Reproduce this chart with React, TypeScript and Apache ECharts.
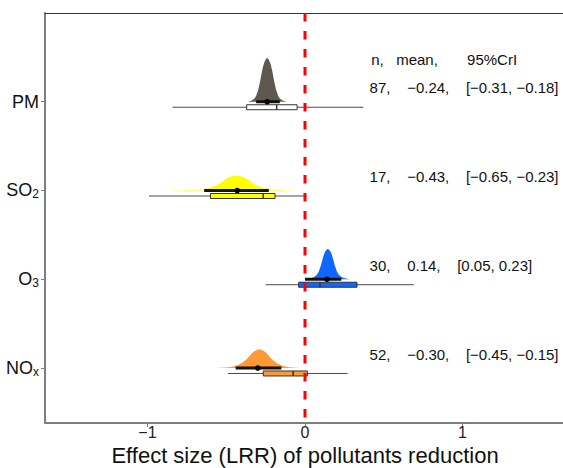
import React, { useEffect, useRef } from 'react';
import * as echarts from 'echarts';

// ---------- data ----------
const labelMain = ['PM', 'SO', 'O', 'NO'];
const labelSub = ['', '2', '3', 'x'];
const rowPositions = [4, 3, 2, 1];
const nObs = [87, 17, 30, 52];
const meanLRR = [-0.24, -0.43, 0.14, -0.3];
const criLow = [-0.31, -0.65, 0.05, -0.45];
const criHigh = [-0.18, -0.23, 0.23, -0.15];
// drawn point-interval extents
const intervalLow = [-0.31, -0.64, 0.0, -0.44];
const intervalHigh = [-0.16, -0.23, 0.23, -0.15];
// boxplots
const whiskerLow = [-0.84, -0.99, -0.25, -0.49];
const boxQ1 = [-0.37, -0.6, -0.04, -0.265];
const boxMedian = [-0.18, -0.265, 0.095, -0.075];
const boxQ3 = [-0.05, -0.19, 0.33, 0.015];
const whiskerHigh = [0.37, 0.01, 0.69, 0.27];
// density outlines [LRR, height in row units]
const densityPM = [
  [-0.361, 0], [-0.342, 0.011], [-0.322, 0.034], [-0.31, 0.068], [-0.297, 0.135], [-0.284, 0.237],
  [-0.272, 0.35], [-0.259, 0.44], [-0.24, 0.496], [-0.221, 0.44], [-0.208, 0.35], [-0.196, 0.237],
  [-0.183, 0.135], [-0.17, 0.068], [-0.158, 0.034], [-0.138, 0.011], [-0.119, 0],
];
const densitySO2 = [
  [-0.879, 0], [-0.784, 0.002], [-0.689, 0.007], [-0.638, 0.017], [-0.587, 0.039], [-0.537, 0.085],
  [-0.486, 0.147], [-0.435, 0.166], [-0.384, 0.147], [-0.333, 0.085], [-0.283, 0.039],
  [-0.232, 0.017], [-0.181, 0.007], [-0.12, 0.002], [-0.048, 0],
];
const densityO3 = [
  [0.005, 0], [0.031, 0.009], [0.056, 0.023], [0.075, 0.051], [0.088, 0.09], [0.101, 0.158],
  [0.113, 0.237], [0.126, 0.305], [0.145, 0.343], [0.164, 0.305], [0.177, 0.237], [0.189, 0.158],
  [0.202, 0.09], [0.215, 0.051], [0.234, 0.023], [0.259, 0.009], [0.285, 0],
];
const densityNOx = [
  [-0.57, 0], [-0.48, 0.009], [-0.442, 0.023], [-0.404, 0.051], [-0.366, 0.107], [-0.328, 0.18],
  [-0.29, 0.211], [-0.252, 0.18], [-0.214, 0.107], [-0.176, 0.051], [-0.138, 0.023],
  [-0.1, 0.009], [-0.03, 0],
];
const densities = [densityPM, densitySO2, densityO3, densityNOx];
const xTicks = [-1, 0, 1];
const headerParts = ['n,', 'mean,', '95%CrI'];
const axisTitle = 'Effect size (LRR) of pollutants reduction';

// ---------- styles ----------
const densityColors = ['#5f5850', '#ffff00', '#1166ff', '#ff9933'];
const boxFills = ['#ffffff', '#ffff00', '#1166ff', '#ff9933'];
const FONT = '"Liberation Sans", Arial, Helvetica, sans-serif';

const fmt = (v: number) => (v < 0 ? '\u2212' : '') + Math.abs(v).toFixed(2);
const sp = (k: number) => '\u00a0'.repeat(k);

export default function App() {
  const ref = useRef<HTMLDivElement>(null);
  useEffect(() => {
    if (!ref.current) return;
    const chart = echarts.init(ref.current, undefined, { renderer: 'svg' });

    const renderItem = (params: any, api: any) => {
      const i = params.dataIndex;
      const row = rowPositions[i];
      const base = api.coord([0, row])[1];
      const X = (v: number) => api.coord([v, row])[0];
      const dens = densities[i];
      const poly: number[][] = [];
      dens.forEach(([x, h]) => poly.push(api.coord([x, row + h])));
      const boxY = base + 5.5;
      const boxH = 5;
      const children: any[] = [
        { type: 'polygon', shape: { points: poly, smooth: 0.2 }, style: { fill: densityColors[i], stroke: null } },
        { type: 'line', shape: { x1: X(whiskerLow[i]), y1: boxY, x2: X(whiskerHigh[i]), y2: boxY }, style: { stroke: '#4a4a4a', lineWidth: 1 } },
        {
          type: 'rect',
          shape: { x: X(boxQ1[i]), y: boxY - boxH / 2, width: X(boxQ3[i]) - X(boxQ1[i]), height: boxH },
          style: { fill: boxFills[i], stroke: '#333', lineWidth: 1 },
        },
        { type: 'line', shape: { x1: X(boxMedian[i]), y1: boxY - boxH / 2, x2: X(boxMedian[i]), y2: boxY + boxH / 2 }, style: { stroke: '#333', lineWidth: 1.5 } },
        { type: 'line', shape: { x1: X(intervalLow[i]), y1: base, x2: X(intervalHigh[i]), y2: base }, style: { stroke: '#111', lineWidth: 3 } },
        { type: 'circle', shape: { cx: X(meanLRR[i]), cy: base, r: 2.8 }, style: { fill: '#000' } },
      ];
      const tp = api.coord([0.41, row + 0.155]);
      children.push({
        type: 'text',
        x: tp[0],
        y: tp[1],
        style: {
          text: `${nObs[i]},${sp(4)}${fmt(meanLRR[i])},${sp(4)}[${fmt(criLow[i])}, ${fmt(criHigh[i])}]`,
          fill: '#111',
          fontSize: 15,
          fontFamily: FONT,
          align: 'left',
          verticalAlign: 'middle',
        },
      });
      if (i === 0) {
        const hp = api.coord([0.42, row + 0.48]);
        children.push({
          type: 'text',
          x: hp[0],
          y: hp[1],
          style: {
            text: `${headerParts[0]}${sp(3)}${headerParts[1]}${sp(7)}${headerParts[2]}`,
            fill: '#111',
            fontSize: 15,
            fontFamily: FONT,
            align: 'left',
            verticalAlign: 'middle',
          },
        });
      }
      return { type: 'group', children };
    };

    const option: any = {
      animation: false,
      textStyle: { fontFamily: FONT },
      grid: { left: 45, top: 13, width: 520, height: 410, containLabel: false, outerBoundsMode: 'none' },
      xAxis: [
        {
          type: 'value',
          min: -1.65,
          max: 1.65,
          position: 'bottom',
          axisLine: { show: true, onZero: false, lineStyle: { color: '#7f7f7f', width: 2 } },
          axisTick: { show: true, customValues: xTicks, length: 4, lineStyle: { color: '#7f7f7f', width: 1 } },
          axisLabel: {
            customValues: xTicks,
            formatter: (v: number) => (v < 0 ? '\u2212' + Math.abs(v) : String(v)),
            fontSize: 16,
            color: '#222',
            margin: 1,
          },
          splitLine: { show: false },
          name: axisTitle,
          nameLocation: 'middle',
          nameGap: 19,
          nameTextStyle: { fontSize: 22, color: '#111' },
        },
        {
          type: 'value',
          min: -1.65,
          max: 1.65,
          position: 'top',
          axisLine: { show: true, onZero: false, lineStyle: { color: '#333', width: 1 } },
          axisTick: { show: false },
          axisLabel: { show: false },
          splitLine: { show: false },
        },
      ],
      yAxis: {
        type: 'value',
        min: 0.38,
        max: 5,
        axisLine: { show: true, onZero: false, lineStyle: { color: '#7f7f7f', width: 2 } },
        axisTick: { show: true, customValues: rowPositions, length: 4, lineStyle: { color: '#7f7f7f', width: 1 } },
        axisLabel: {
          customValues: rowPositions,
          margin: 6,
          formatter: (v: number) => {
            const k = rowPositions.indexOf(v);
            if (k < 0) return '';
            return labelSub[k] ? `{m|${labelMain[k]}}{s|${labelSub[k]}}` : `{m|${labelMain[k]}}`;
          },
          rich: {
            m: { fontSize: 18, lineHeight: 20, color: '#111', fontFamily: FONT },
            s: { fontSize: 12, lineHeight: 12, verticalAlign: 'bottom', color: '#111', fontFamily: FONT },
          },
        },
        splitLine: { show: false },
      },
      series: [
        {
          type: 'custom',
          renderItem,
          data: rowPositions.map((r, i) => [meanLRR[i], r]),
          encode: { x: 0, y: 1 },
          clip: false,
          z: 2,
        },
        {
          type: 'line',
          data: [
            [0, 5],
            [0, 0.38],
          ],
          symbol: 'none',
          lineStyle: { color: '#ff0000', width: 3, type: [8.5, 9.5] },
          z: 5,
          silent: true,
        },
      ],
    };
    chart.setOption(option);
    return () => chart.dispose();
  }, []);
  return <div ref={ref} style={{ position: 'absolute', left: 0, top: 0, width: 563, height: 468 }} />;
}
